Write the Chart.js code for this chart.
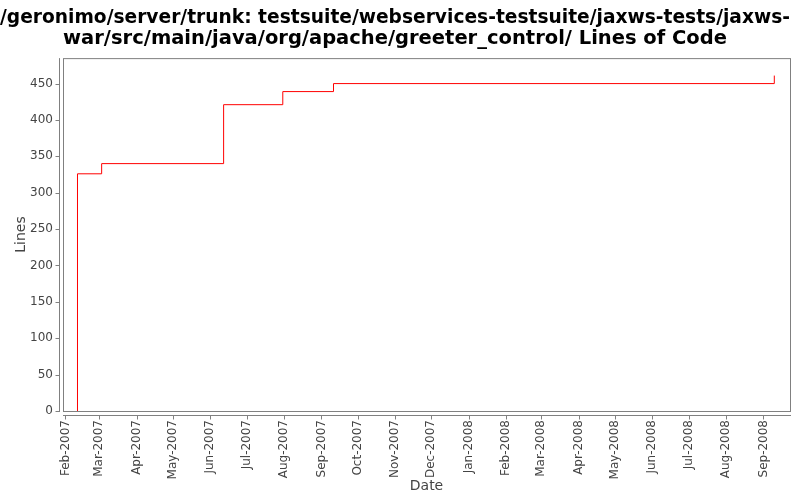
<!DOCTYPE html>
<html>
<head>
<meta charset="utf-8">
<script src="https://cdn.jsdelivr.net/npm/chart.js@4"></script>
<style>
  html, body { margin: 0; padding: 0; background: #fff; }
  #wrap { width: 800px; height: 500px; }
</style>
</head>
<body>
<div id="wrap"><canvas id="chart" width="800" height="500"></canvas></div>
<script>
// commit dates and line counts
const dates = ['2007-02-11', '2007-02-11', '2007-03-03', '2007-06-12', '2007-07-31', '2007-09-11', '2008-09-10'];
const lines = [0, 326, 340, 421, 439, 450, 461];

// month ticks on the date axis
const tickMonths = ['2007-02', '2007-03', '2007-04', '2007-05', '2007-06', '2007-07', '2007-08', '2007-09',
  '2007-10', '2007-11', '2007-12', '2008-01', '2008-02', '2008-03', '2008-04', '2008-05', '2008-06',
  '2008-07', '2008-08', '2008-09'];
const yTicks = [0, 50, 100, 150, 200, 250, 300, 350, 400, 450];

const monthNames = ['Jan', 'Feb', 'Mar', 'Apr', 'May', 'Jun', 'Jul', 'Aug', 'Sep', 'Oct', 'Nov', 'Dec'];
const DAY = 86400000;
const toDay = (s) => Date.parse(s + 'T00:00:00Z') / DAY;
const monthLabel = (d) => {
  const dt = new Date(d * DAY);
  return monthNames[dt.getUTCMonth()] + '-' + dt.getUTCFullYear();
};

const points = dates.map((d, i) => ({ x: toDay(d), y: lines[i] }));
const axisColor = '#808080';
const textColor = '#444';

// plot frame + offset axis lines with outward tick marks
const frame = {
  id: 'frame',
  afterDraw(chart) {
    const { ctx, chartArea: a, scales } = chart;
    ctx.save();
    ctx.strokeStyle = axisColor;
    ctx.lineWidth = 1;
    ctx.strokeRect(a.left + 0.5, a.top + 0.5, a.right - a.left, a.bottom - a.top);
    const ax = a.left - 3.5;
    const ay = a.bottom + 4.5;
    ctx.beginPath();
    ctx.moveTo(ax, a.top);
    ctx.lineTo(ax, a.bottom + 1);
    ctx.moveTo(a.left, ay);
    ctx.lineTo(a.right + 1, ay);
    scales.y.ticks.forEach(t => {
      const py = Math.round(scales.y.getPixelForValue(t.value)) + 0.5;
      ctx.moveTo(ax - 4, py);
      ctx.lineTo(ax, py);
    });
    scales.x.ticks.forEach(t => {
      const px = Math.round(scales.x.getPixelForValue(t.value)) + 0.5;
      ctx.moveTo(px, ay);
      ctx.lineTo(px, ay + 4);
    });
    ctx.stroke();
    ctx.restore();
  }
};

new Chart(document.getElementById('chart'), {
  type: 'line',
  data: {
    datasets: [{
      data: points,
      borderColor: '#ff0000',
      borderWidth: 1,
      pointRadius: 0,
      stepped: true,
      fill: false
    }]
  },
  options: {
    responsive: false,
    animation: false,
    layout: { padding: { left: 0, right: 10, top: 0, bottom: 0 } },
    plugins: {
      legend: { display: false },
      tooltip: { enabled: false },
      title: {
        display: true,
        text: ['/geronimo/server/trunk: testsuite/webservices-testsuite/jaxws-tests/jaxws-',
               'war/src/main/java/org/apache/greeter_control/ Lines of Code'],
        color: '#000',
        font: { family: 'DejaVu Sans', size: 19.5, weight: 'bold', lineHeight: 1.08 },
        padding: { top: 7, bottom: 9 }
      }
    },
    scales: {
      x: {
        type: 'linear',
        min: toDay('2007-01-30'),
        max: toDay('2008-09-23'),
        grid: { display: false, drawTicks: false },
        border: { display: false },
        afterBuildTicks: (s) => { s.ticks = tickMonths.map(m => ({ value: toDay(m + '-01') })); },
        afterFit: (s) => { s.height = 89; },
        ticks: {
          autoSkip: false,
          minRotation: 90,
          maxRotation: 90,
          padding: 9,
          color: textColor,
          font: { family: 'DejaVu Sans', size: 12 },
          callback: (v) => monthLabel(v)
        },
        title: {
          display: true,
          text: 'Date',
          color: textColor,
          font: { family: 'DejaVu Sans', size: 14 },
          padding: { top: 0, bottom: 5 }
        }
      },
      y: {
        min: 0,
        max: 485,
        grid: { display: false, drawTicks: false },
        border: { display: false },
        afterBuildTicks: (s) => { s.ticks = yTicks.map(v => ({ value: v })); },
        afterFit: (s) => { s.width = 63; },
        ticks: {
          padding: 10,
          color: textColor,
          font: { family: 'DejaVu Sans', size: 12 }
        },
        title: {
          display: true,
          text: 'Lines',
          color: textColor,
          font: { family: 'DejaVu Sans', size: 14 },
          padding: { top: 13, bottom: 0 }
        }
      }
    }
  },
  plugins: [frame]
});
</script>
</body>
</html>
